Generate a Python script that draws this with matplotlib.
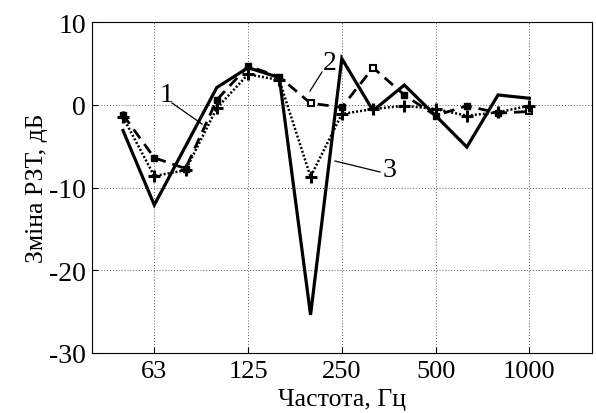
import matplotlib
matplotlib.use("Agg")
import matplotlib.pyplot as plt
import numpy as np

# third-octave band centres (nominal), plotted at equal spacing
freqs = [50, 63, 80, 100, 125, 160, 200, 250, 315, 400, 500, 630, 800, 1000]
tick_labels = ["63", "125", "250", "500", "1000"]

# change of sound insulation, dB
curve1 = [-3.1, -12.1, -5.0, 2.1, 4.5, 3.3, -25.4, 5.6, -0.7, 2.4, -1.3, -5.1, 1.2, 0.8]
curve2 = [-1.2, -6.4, -7.7, 0.6, 4.7, 3.4, 0.2, -0.3, 4.5, 1.2, -1.3, -0.1, -1.0, -0.8]
curve3 = [-1.5, -8.6, -7.9, -0.4, 3.7, 3.0, -8.7, -1.1, -0.5, -0.1, -0.5, -1.3, -0.9, -0.1]

plt.rcParams["font.family"] = ["Liberation Serif", "DejaVu Serif"]
plt.rcParams["axes.unicode_minus"] = False

x = np.arange(1, len(freqs) + 1)  # index 0 would be 40 Hz

fig = plt.figure(figsize=(5.96, 4.14), dpi=100)
ax = fig.add_axes([0.154, 0.145, 0.839, 0.799])

ax.plot(x, curve1, color="black", lw=2.3, solid_joinstyle="miter")
ax.plot(x, curve2, color="black", lw=2, ls=(0, (4, 2.5)),
        marker="s", ms=5, mfc="black", mec="black",
        markevery=[0, 1, 2, 3, 4, 5, 7, 9, 10, 11, 12])
ax.plot(x, curve2, ls="none", marker="s", ms=5, mfc="white", mec="black",
        mew=1.5, markevery=[6, 8, 13])
ax.plot(x, curve3, color="black", lw=1.8, ls=(0, (0.8, 0.8)),
        marker="+", ms=8, mew=2.2)

ax.set_xlim(0, len(freqs) + 2)
ax.set_ylim(-30, 10)
ax.set_xticks([2, 5, 8, 11, 14])
ax.set_xticklabels(tick_labels)
ax.set_yticks([-30, -20, -10, 0, 10])
ax.grid(True, color="0.35", ls=(0, (1, 2)), lw=0.7)
ax.tick_params(direction="in", labelsize=20, length=4)
ax.tick_params(axis="x", pad=5, labelsize=19)
ax.tick_params(axis="y", pad=4)
for s in ax.spines.values():
    s.set_linewidth(0.8)

ax.set_xlabel("Частота, Гц", fontsize=18.5, va="center")
ax.xaxis.set_label_coords(0.5, -0.139)
ax.set_ylabel("Зміна РЗТ, дБ", fontsize=18.5, labelpad=1)

# curve labels with leader lines
def px(xp, yp):
    return fig.transFigure.inverted().transform((xp, 414 - yp))

for txt, tpos, l0, l1 in [("1", (167, 96), (172, 104), (202, 125)),
                          ("2", (330, 64), (322, 73), (310, 92)),
                          ("3", (390, 171), (380, 173), (335, 162))]:
    fig.text(*px(*tpos), txt, fontsize=20, ha="center", va="center")
    a, b = px(*l0), px(*l1)
    fig.add_artist(plt.Line2D([a[0], b[0]], [a[1], b[1]], color="black", lw=0.9))

fig.savefig("out.png", dpi=100)
